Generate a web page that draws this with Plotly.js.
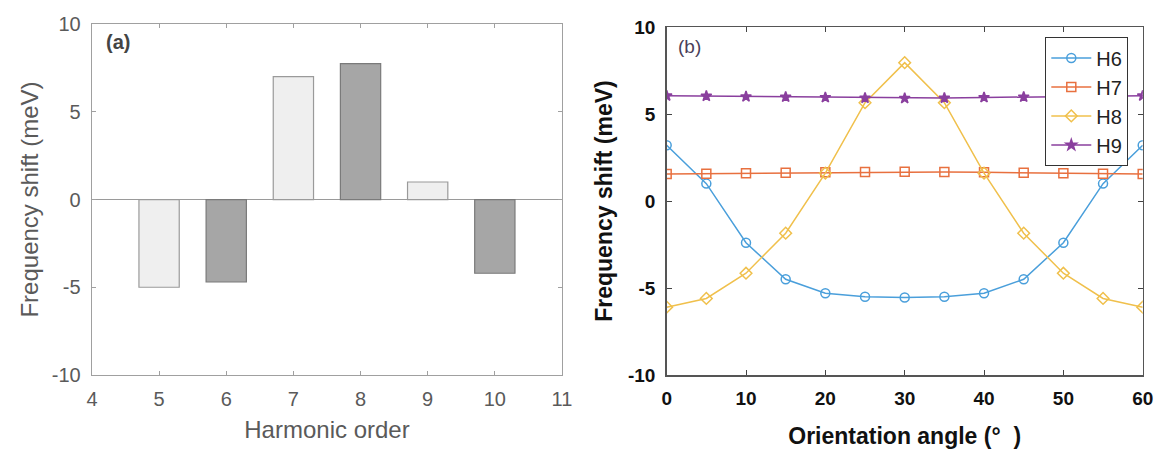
<!DOCTYPE html>
<html>
<head>
<meta charset="utf-8">
<script src="https://cdn.plot.ly/plotly-3.0.1.min.js"></script>
<style>html,body{margin:0;padding:0;background:#fff;}#chart{width:1158px;height:454px;}</style>
</head>
<body>
<div id="chart"></div>
<script>
// Panel (a): harmonic order vs frequency shift
const oddOrders = [5, 7, 9];
const oddShifts = [-5.0, 7.0, 1.0];
const evenOrders = [6, 8, 10];
const evenShifts = [-4.7, 7.75, -4.2];

// Panel (b): orientation angle vs frequency shift
const angles = [0, 5, 10, 15, 20, 25, 30, 35, 40, 45, 50, 55, 60];
const h6 = [3.2, 1.0, -2.4, -4.5, -5.3, -5.5, -5.55, -5.5, -5.3, -4.5, -2.4, 1.0, 3.2];
const h7 = [1.55, 1.57, 1.6, 1.62, 1.65, 1.67, 1.68, 1.67, 1.65, 1.62, 1.6, 1.57, 1.55];
const h8 = [-6.1, -5.6, -4.15, -1.85, 1.6, 5.65, 7.95, 5.65, 1.6, -1.85, -4.15, -5.6, -6.1];
const h9 = [6.05, 6.03, 6.0, 5.98, 5.95, 5.92, 5.9, 5.92, 5.95, 5.98, 6.0, 6.03, 6.05];
const seriesNames = ['H6', 'H7', 'H8', 'H9'];
const xTicksA = [4, 5, 6, 7, 8, 9, 10, 11];
const xTicksB = [0, 10, 20, 30, 40, 50, 60];
const yTicks = [-10, -5, 0, 5, 10];

const colors = ['#4a9fdb', '#e8703f', '#f0c04c', '#8a3f9e'];
const symbols = ['circle-open', 'square-open', 'diamond-open', 'star'];
const seriesB = [h6, h7, h8, h9];

const traces = [
  {type: 'bar', x: oddOrders, y: oddShifts, width: 0.6, xaxis: 'x', yaxis: 'y',
   marker: {color: '#efefef', line: {color: '#9a9a9a', width: 1.2}}, showlegend: false, hoverinfo: 'x+y'},
  {type: 'bar', x: evenOrders, y: evenShifts, width: 0.6, xaxis: 'x', yaxis: 'y',
   marker: {color: '#a6a6a6', line: {color: '#7a7a7a', width: 1.2}}, showlegend: false, hoverinfo: 'x+y'}
];
seriesB.forEach((s, i) => {
  traces.push({type: 'scatter', mode: 'lines+markers', x: angles, y: s, name: seriesNames[i],
    xaxis: 'x2', yaxis: 'y2',
    line: {color: colors[i], width: 1.5},
    marker: {symbol: symbols[i], size: symbols[i] === 'star' ? 8 : 9, color: colors[i], line: {color: colors[i], width: 1.5}}});
});

const FAM = 'Liberation Sans, Arial, sans-serif';
const fontA = {family: FAM, size: 20, color: '#5a5a5a'};
const fontB = {family: FAM, size: 19, color: '#111', weight: 'bold'};

const layout = {
  width: 1158, height: 454,
  margin: {l: 0, r: 0, t: 0, b: 0},
  paper_bgcolor: '#fff', plot_bgcolor: '#fff',
  barmode: 'overlay',
  showlegend: true,
  legend: {x: 0.9025, y: 0.918, xanchor: 'left', yanchor: 'top', xref: 'paper', yref: 'paper',
    bgcolor: '#fff', bordercolor: '#333', borderwidth: 1.2,
    font: {family: FAM, size: 20, color: '#222'},
    tracegroupgap: 0, itemwidth: 40},
  xaxis: {domain: [0.0794, 0.4853], range: [4, 11], tickvals: xTicksA, ticktext: xTicksA.map(String),
    ticks: 'inside', ticklen: 4, tickcolor: '#a0a0a0', showline: true, linecolor: '#a0a0a0', linewidth: 1.3,
    mirror: 'ticks', showgrid: false, zeroline: false, tickfont: fontA, ticklabelstandoff: 6,
    title: {text: 'Harmonic order', font: {family: FAM, size: 24, color: '#5a5a5a'}, standoff: 12},
    anchor: 'y'},
  yaxis: {domain: [0.174, 0.947], range: [-10, 10], tickvals: yTicks, ticktext: yTicks.map(String),
    ticks: 'inside', ticklen: 4, tickcolor: '#a0a0a0', showline: true, linecolor: '#a0a0a0', linewidth: 1.3,
    mirror: 'ticks', showgrid: false, zeroline: true, zerolinecolor: '#9a9a9a', zerolinewidth: 1.3,
    tickfont: fontA, ticklabelstandoff: 6,
    title: {text: 'Frequency shift (meV)', font: {family: FAM, size: 24, color: '#5a5a5a'}, standoff: 6},
    anchor: 'x'},
  xaxis2: {domain: [0.5757, 0.9868], range: [0, 60], tickvals: xTicksB, ticktext: xTicksB.map(String),
    ticks: 'inside', ticklen: 5, tickcolor: '#444', showline: true, linecolor: '#555', linewidth: 1.5,
    mirror: 'ticks', showgrid: false, zeroline: false, tickfont: fontB, ticklabelstandoff: 6,
    title: {text: 'Orientation angle (°  )', font: {family: FAM, size: 23, color: '#111', weight: 'bold'}, standoff: 19},
    anchor: 'y2'},
  yaxis2: {domain: [0.174, 0.9405], range: [-10, 10], tickvals: yTicks, ticktext: yTicks.map(String),
    ticks: 'inside', ticklen: 5, tickcolor: '#444', showline: true, linecolor: '#555', linewidth: 1.5,
    mirror: 'ticks', showgrid: false, zeroline: false, tickfont: fontB, ticklabelstandoff: 6,
    title: {text: 'Frequency shift (meV)', font: {family: FAM, size: 23, color: '#111', weight: 'bold'}, standoff: 9},
    anchor: 'x2'},
  annotations: [
    {text: '(a)', x: 0.025, y: 9.0, xref: 'x domain', yref: 'y', xanchor: 'left', yanchor: 'middle', showarrow: false,
     font: {family: FAM, size: 20, color: '#444', weight: 'bold'}},
    {text: '(b)', x: 0.02, y: 8.9, xref: 'x2 domain', yref: 'y2', xanchor: 'left', yanchor: 'middle', showarrow: false,
     font: {family: FAM, size: 19, color: '#4a3f5a'}}
  ]
};

Plotly.newPlot('chart', traces, layout, {displayModeBar: false, staticPlot: true});
</script>
</body>
</html>
